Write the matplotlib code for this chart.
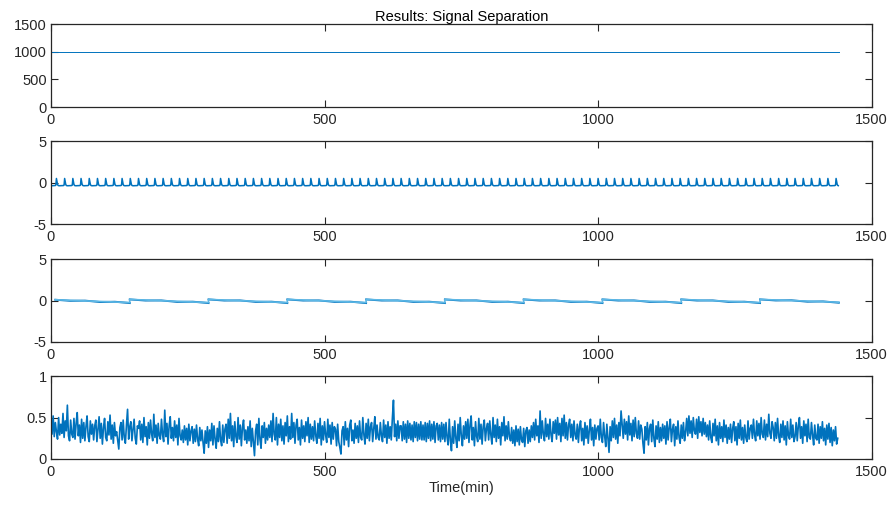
#!/usr/bin/env python3
"""Signal separation results: four stacked components over one day (minutes)."""
import numpy as np
import matplotlib; matplotlib.use("Agg")
import matplotlib.pyplot as plt

plt.rcParams["font.family"] = ["Liberation Sans", "DejaVu Sans"]
plt.rcParams["font.size"] = 10.5

DARK = "#0072BD"
LIGHT = "#5DB8E6"
INK = "#262626"

# component 1: constant level
level_t = [1, 1440]
level_v = [1000, 1000]

# component 2: short pulse repeated every 15 min (one period)
pulse = [-0.38, -0.38, -0.37, -0.37, -0.37, -0.36, -0.36, -0.36, -0.35, -0.30,
         0.50, 0.12, -0.22, -0.34, -0.37]
n_pulses = 96

# component 3: sawtooth, jumps every ~144 min
saw_t = [8, 144, 144, 288, 288, 432, 432, 576, 576, 720, 720, 864, 864,
         1008, 1008, 1152, 1152, 1296, 1296, 1440]
saw_v = [0.10, -0.24, 0.14, -0.24, 0.14, -0.24, 0.14, -0.24, 0.14, -0.24,
         0.14, -0.24, 0.14, -0.24, 0.14, -0.24, 0.14, -0.24, 0.14, -0.20]
# darker underlying trace with a small ripple around the sawtooth
ripple_frac = [0.0, 0.2, 0.4, 0.6, 0.8, 1.0]
ripple_off = [0.0, -0.06, 0.03, -0.07, 0.03, -0.06]

# component 4: noise, sampled every 2 min (hundredths)
noise_step = 2
noise_pct = [
    48, 30, 52, 27, 44, 33, 24, 50, 29, 42, 31, 55, 26, 46, 34, 65, 28, 22, 47, 30,
    26, 49, 24, 43, 56, 28, 41, 20, 48, 25, 44, 22, 39, 52, 27, 21, 46, 30, 42, 23,
    40, 47, 21, 36, 51, 25, 43, 18, 38, 49, 26, 22, 45, 29, 53, 24, 41, 19, 44, 28,
    33, 22, 12, 38, 44, 23, 47, 26, 19, 41, 60, 24, 39, 45, 22, 36, 48, 25, 18, 40,
    37, 46, 23, 42, 20, 50, 27, 39, 17, 44, 25, 47, 30, 22, 54, 26, 41, 19, 43, 28,
    24, 48, 29, 21, 59, 27, 43, 18, 40, 51, 25, 38, 22, 46, 26, 41, 17, 49, 28, 23,
    35, 20, 40, 23, 37, 17, 42, 22, 34, 39, 19, 36, 21, 41, 24, 16, 38, 22, 35, 20,
    7, 34, 19, 39, 14, 35, 22, 43, 17, 40, 24, 13, 37, 21, 45, 23, 16, 41, 20, 36,
    42, 19, 48, 25, 55, 22, 40, 15, 45, 27, 20, 50, 24, 41, 16, 38, 47, 23, 35, 19,
    39, 22, 46, 15, 37, 21, 4, 34, 42, 17, 49, 24, 13, 40, 26, 44, 19, 37, 23, 41,
    26, 46, 21, 55, 30, 23, 50, 17, 42, 26, 48, 22, 40, 18, 44, 28, 52, 21, 39, 24,
    55, 26, 44, 19, 41, 48, 23, 38, 17, 47, 25, 40, 21, 45, 28, 50, 20, 42, 24, 39,
    22, 46, 28, 19, 43, 25, 49, 17, 40, 23, 45, 29, 20, 48, 26, 41, 18, 44, 24, 39,
    36, 16, 42, 21, 14, 6, 34, 39, 17, 45, 23, 37, 15, 41, 47, 22, 35, 19, 43, 25,
    40, 20, 46, 26, 23, 50, 29, 18, 43, 25, 48, 22, 39, 44, 21, 37, 51, 24, 41, 26,
    23, 44, 28, 21, 47, 26, 41, 19, 45, 25, 39, 23, 49, 71, 27, 42, 22, 46, 25, 40,
    40, 22, 45, 24, 42, 20, 46, 25, 43, 23, 41, 21, 45, 26, 44, 22, 42, 24, 45, 23,
    41, 23, 44, 21, 43, 25, 46, 22, 42, 24, 45, 20, 40, 43, 23, 41, 21, 44, 24, 42,
    21, 44, 26, 17, 48, 23, 10, 39, 19, 46, 25, 14, 42, 22, 50, 28, 16, 40, 24, 45,
    25, 48, 20, 41, 52, 23, 38, 16, 45, 27, 21, 49, 24, 42, 18, 39, 47, 22, 37, 43,
    23, 46, 29, 18, 50, 26, 41, 21, 48, 25, 39, 17, 44, 28, 51, 22, 40, 24, 45, 27,
    22, 38, 19, 35, 16, 40, 21, 36, 17, 39, 23, 20, 37, 15, 34, 38, 19, 35, 21, 40,
    26, 44, 23, 48, 28, 40, 20, 58, 25, 46, 30, 22, 49, 27, 42, 24, 48, 29, 21, 45,
    31, 47, 24, 50, 29, 43, 21, 49, 28, 53, 25, 44, 23, 41, 48, 26, 42, 22, 46, 29,
    24, 42, 20, 39, 46, 22, 37, 17, 44, 25, 40, 19, 35, 48, 23, 38, 16, 41, 24, 37,
    40, 23, 48, 26, 20, 44, 28, 15, 42, 25, 8, 39, 22, 46, 26, 49, 24, 41, 19, 44,
    28, 58, 42, 25, 48, 30, 45, 23, 52, 29, 43, 22, 47, 27, 50, 31, 25, 46, 24, 41,
    36, 19, 7, 39, 23, 44, 17, 37, 42, 21, 47, 25, 15, 40, 24, 45, 20, 38, 22, 42,
    25, 40, 18, 45, 23, 38, 48, 21, 36, 42, 16, 39, 24, 46, 26, 19, 41, 25, 44, 22,
    33, 49, 28, 52, 31, 46, 26, 50, 34, 30, 48, 25, 51, 32, 45, 28, 49, 30, 44, 27,
    41, 23, 46, 26, 20, 43, 28, 48, 22, 40, 17, 44, 25, 39, 21, 47, 26, 41, 19, 38,
    24, 42, 20, 37, 45, 22, 39, 17, 43, 25, 47, 23, 38, 19, 41, 26, 21, 46, 24, 37,
    41, 25, 48, 29, 22, 46, 28, 43, 24, 50, 30, 26, 47, 23, 42, 27, 54, 31, 25, 45,
    38, 22, 44, 25, 49, 28, 20, 42, 26, 46, 23, 40, 17, 45, 28, 24, 48, 26, 41, 21,
    27, 44, 22, 40, 50, 25, 39, 19, 46, 28, 42, 21, 48, 26, 24, 44, 29, 17, 41, 25,
    23, 42, 19, 39, 25, 45, 22, 37, 17, 41, 24, 43, 20, 38, 16, 35, 22, 39, 18, 25,
]

x_ticks = [0, 500, 1000, 1500]
y_ticks = [[0, 500, 1000, 1500], [-5, 0, 5], [-5, 0, 5], [0, 0.5, 1]]
y_labels = [["0", "500", "1000", "1500"], ["-5", "0", "5"], ["-5", "0", "5"], ["0", "0.5", "1"]]

fig = plt.figure(figsize=(8.94, 5.05), dpi=100)
bottoms = [0.788, 0.5564, 0.3228, 0.0911]
axes = [fig.add_axes([0.057, b, 0.918, 0.164]) for b in bottoms]

axes[0].plot(level_t, level_v, color=DARK, lw=0.7)

pulse_sig = np.tile(pulse, n_pulses)
axes[1].plot(np.arange(len(pulse_sig)), pulse_sig, color=DARK, lw=1.1)

# dark rippled trace under the light sawtooth
for k in range(0, len(saw_t), 2):
    t0, t1, v0, v1 = saw_t[k], saw_t[k + 1], saw_v[k], saw_v[k + 1]
    tt = [t0 + f * (t1 - t0) for f in ripple_frac]
    vv = [v0 + f * (v1 - v0) + o for f, o in zip(ripple_frac, ripple_off)]
    axes[2].plot(tt, vv, color=DARK, lw=1.4)
axes[2].plot(saw_t, saw_v, color=LIGHT, lw=1.2)

noise = np.array(noise_pct) / 100.0
axes[3].plot(np.arange(len(noise)) * noise_step, noise, color=DARK, lw=1.2)

for ax, yt, yl in zip(axes, y_ticks, y_labels):
    ax.set_xlim(0, 1500)
    ax.set_ylim(yt[0], yt[-1])
    ax.set_xticks(x_ticks)
    ax.set_yticks(yt)
    ax.set_yticklabels(yl)
    ax.tick_params(direction="in", top=True, right=True, length=5, width=0.8,
                   colors=INK, labelcolor=INK)
    ax.tick_params(axis="x", pad=4)
    ax.tick_params(axis="y", pad=3)
    for s in ax.spines.values():
        s.set_color(INK); s.set_linewidth(0.9)

axes[0].set_title("Results: Signal Separation", fontsize=10.5, color="black", pad=2)
axes[3].set_xlabel("Time(min)", color=INK, labelpad=2)

fig.savefig("out.png", dpi=100)
print("wrote out.png")
